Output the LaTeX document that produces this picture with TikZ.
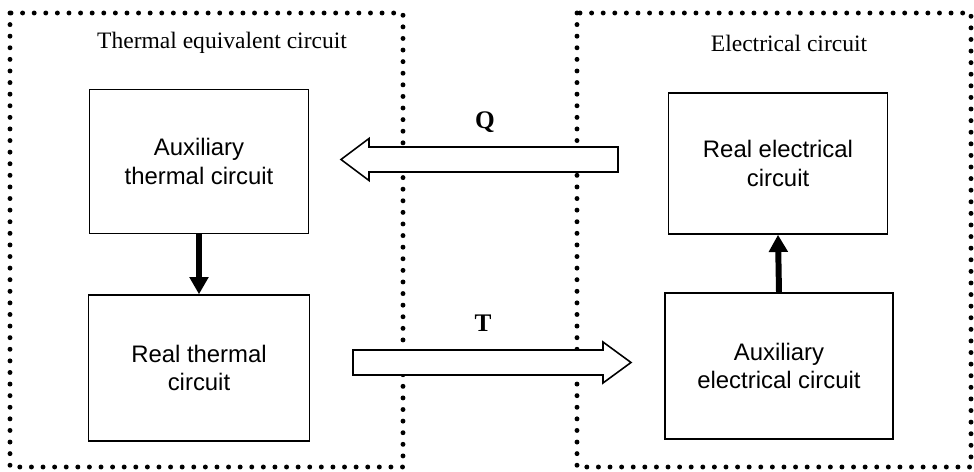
\documentclass[tikz,border=0pt]{standalone}
\usepackage{fontspec}
\setmainfont{Liberation Serif}
\newfontfamily\boxfont{Liberation Sans}
\usetikzlibrary{positioning,arrows.meta,calc}

\begin{document}
\begin{tikzpicture}[
  x=0.02cm, y=-0.02cm,
  node distance=1.2cm and 8mm,
  box/.style={draw, line width=0.9pt, minimum width=4.38cm, minimum height=2.88cm,
              align=center, inner sep=0pt, font=\boxfont\fontsize{13.6}{16.4}\selectfont},
  zone/.style={line width=2.8pt, line cap=round, dash pattern=on 0pt off 6.6pt},
  title/.style={font=\fontsize{13.4}{16}\selectfont},
  flow/.style={font=\bfseries\fontsize{14.4}{16}\selectfont},
  arr/.style={-{Triangle[width=10.4pt,length=9.8pt]}, line width=3.4pt},
  hollow/.style={draw, fill=white, line width=0.9pt, line join=miter},
]
\useasboundingbox (0,0) rectangle (974,472);

% Dotted regions
\draw[zone] (10,13) rectangle (403,467);
\draw[zone] (577,13) rectangle (971,467);
\node[title] (thtitle) at (222,43) {Thermal equivalent circuit};
\node[title] (eltitle) at (789,43) {Electrical circuit};

% Thermal side
\node[box] (auxth) at (199,161.5) {Auxiliary\\thermal circuit};
\node[box, minimum width=4.42cm, minimum height=2.92cm, below=1.2cm of auxth] (realth) {Real thermal\\circuit};

% Electrical side
\node[box, minimum height=2.82cm] (realel) at (778,163.5) {Real electrical\\circuit};
\node[box, minimum width=4.56cm, minimum height=2.92cm] (auxel) at (779,366) {Auxiliary\\electrical circuit};

% Arrows
\draw[arr] (auxth.south) -- (realth.north);
\draw[arr] (auxel.north) -- (realel.north |- realel.south);

% Heat flow Q
\coordinate (qtail) at (618,159.5);
\coordinate (qtip) at (341,159.5);
\draw[hollow] ($(qtail)+(0,-12.5)$) -- ($(qtip)+(28,-12.5)$) -- ($(qtip)+(28,-21)$) -- (qtip)
  -- ($(qtip)+(28,21)$) -- ($(qtip)+(28,12.5)$) -- ($(qtail)+(0,12.5)$) -- cycle;
\node[flow] (qlabel) at (485,122) {Q};

% Temperature T
\coordinate (ttail) at (353,362.5);
\coordinate (ttip) at (631,362.5);
\draw[hollow] ($(ttail)+(0,-12.5)$) -- ($(ttip)+(-28,-12.5)$) -- ($(ttip)+(-28,-20.5)$) -- (ttip)
  -- ($(ttip)+(-28,20.5)$) -- ($(ttip)+(-28,12.5)$) -- ($(ttail)+(0,12.5)$) -- cycle;
\node[flow] (tlabel) at (483,323) {T};
\end{tikzpicture}
\end{document}
